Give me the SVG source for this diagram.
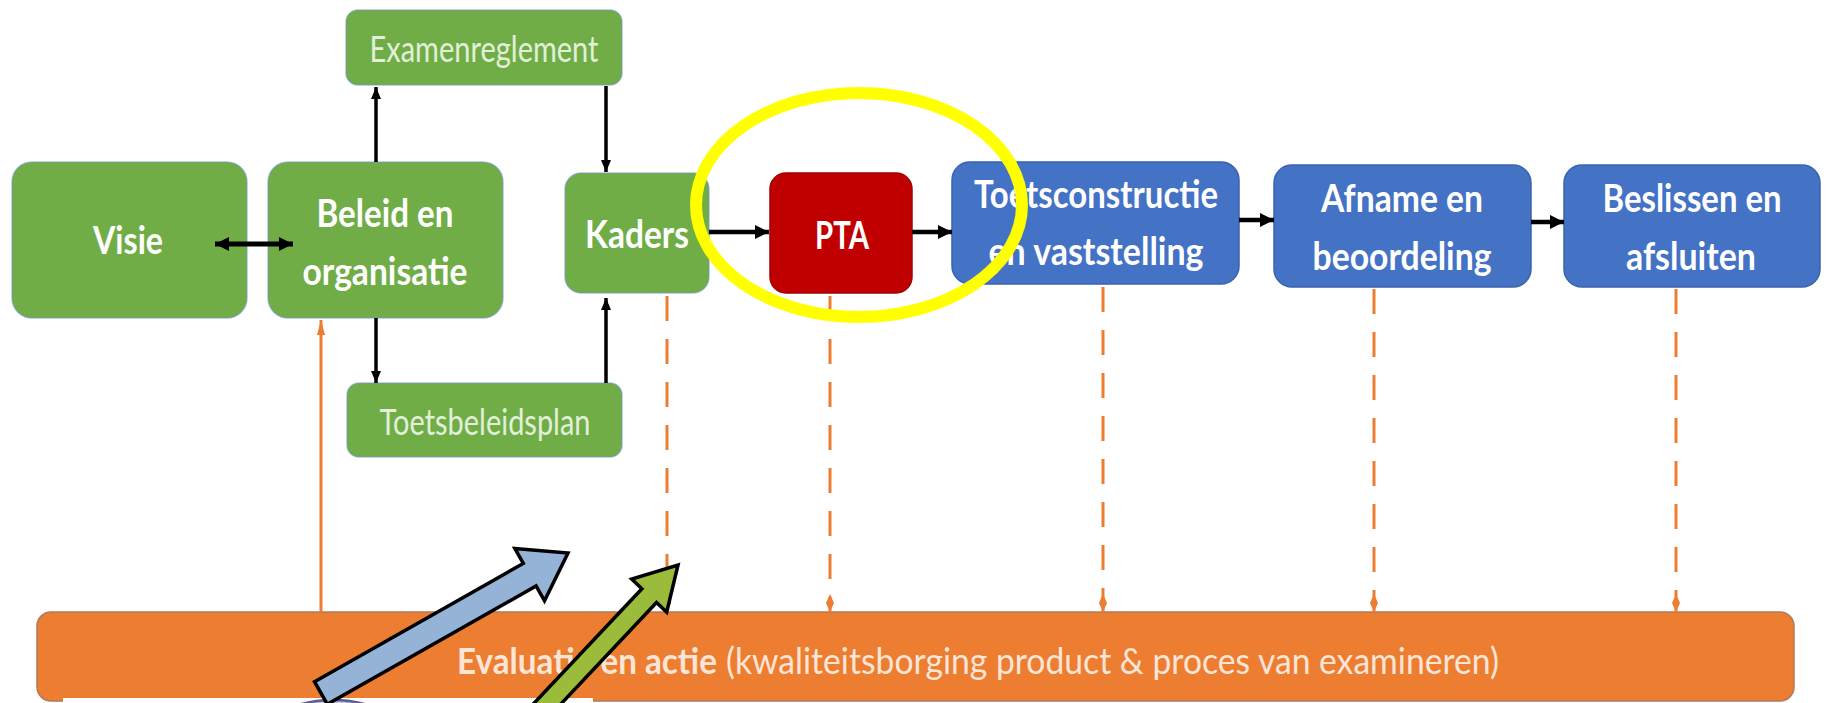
<svg xmlns="http://www.w3.org/2000/svg" width="1831" height="703" viewBox="0 0 1831 703">
<style>
.g{fill:#70AD47;stroke:#6E93BF;stroke-opacity:0.55;stroke-width:1.5}
.b{fill:#4472C4;stroke:#3A63AD;stroke-width:1.5}
.r{fill:#C00000;stroke:#A30000;stroke-width:1.5}
.t{font-family:Lato,"Liberation Sans",sans-serif;font-weight:bold;font-size:39px;fill:#FFFFFF;text-anchor:middle}
.ts{font-family:Lato,"Liberation Sans",sans-serif;font-size:36px;fill:#E2F0D9;text-anchor:middle}
.bt{font-family:Lato,"Liberation Sans",sans-serif;font-size:36px;fill:#FBE5D6}
.k{stroke:#000;fill:none}
.od{stroke:#ED7D31;stroke-width:3;stroke-dasharray:25 18;fill:none}
</style>
<defs>
<marker id="ah" markerUnits="userSpaceOnUse" markerWidth="16" markerHeight="16" refX="14" refY="8" orient="auto"><path d="M0,1 L14,8 L0,15 z" fill="#000"/></marker>
<marker id="ahs" markerUnits="userSpaceOnUse" markerWidth="14" markerHeight="12" refX="12" refY="6" orient="auto"><path d="M0,1 L12,6 L0,11 z" fill="#000"/></marker>
<marker id="ahd" markerUnits="userSpaceOnUse" markerWidth="16" markerHeight="16" refX="14" refY="8" orient="auto-start-reverse"><path d="M0,1 L14,8 L0,15 z" fill="#000"/></marker>
<marker id="od" markerUnits="userSpaceOnUse" markerWidth="18" markerHeight="10" refX="18" refY="5" orient="auto"><path d="M0,5 L9,1 L18,5 L9,9 z" fill="#ED7D31"/></marker>
<marker id="os" markerUnits="userSpaceOnUse" markerWidth="15" markerHeight="10" refX="15" refY="5" orient="auto"><path d="M0,1 L15,5 L0,9 z" fill="#ED7D31"/></marker>
</defs>
<rect width="1831" height="703" fill="#FFFFFF"/>

<g id="visie"><rect class="g" x="12" y="162" width="235" height="156" rx="20"/><text class="t" x="128" y="254" textLength="70" lengthAdjust="spacingAndGlyphs">Visie</text></g>
<g id="beleid"><rect class="g" x="268" y="162" width="235" height="156" rx="20"/><text class="t" x="385" y="227" textLength="137" lengthAdjust="spacingAndGlyphs">Beleid en</text><text class="t" x="385" y="285" textLength="165" lengthAdjust="spacingAndGlyphs">organisatie</text></g>
<g id="examenreglement"><rect class="g" x="346" y="10" width="276" height="75" rx="12"/><text class="ts" x="484" y="62" textLength="229" lengthAdjust="spacingAndGlyphs">Examenreglement</text></g>
<g id="toetsbeleidsplan"><rect class="g" x="347" y="383" width="275" height="74" rx="12"/><text class="ts" x="485" y="435" font-size="34" textLength="211" lengthAdjust="spacingAndGlyphs">Toetsbeleidsplan</text></g>
<g id="kaders"><rect class="g" x="565" y="173" width="144" height="120" rx="16"/><text class="t" x="637" y="248" textLength="104" lengthAdjust="spacingAndGlyphs">Kaders</text></g>
<g id="pta"><rect class="r" x="770" y="173" width="142" height="120" rx="16"/><text class="t" x="842" y="249" font-weight="normal" textLength="54" lengthAdjust="spacingAndGlyphs">PTA</text></g>
<g id="toetsconstructie"><rect class="b" x="952" y="162" width="287" height="122" rx="18"/><text class="t" x="1096" y="208" textLength="244" lengthAdjust="spacingAndGlyphs">Toetsconstructie</text><text class="t" x="1096" y="265" textLength="215" lengthAdjust="spacingAndGlyphs">en vaststelling</text></g>
<g id="afname"><rect class="b" x="1274" y="165" width="257" height="122" rx="18"/><text class="t" x="1402" y="212" textLength="162" lengthAdjust="spacingAndGlyphs">Afname en</text><text class="t" x="1402" y="270" textLength="179" lengthAdjust="spacingAndGlyphs">beoordeling</text></g>
<g id="beslissen"><rect class="b" x="1564" y="165" width="256" height="122" rx="18"/><text class="t" x="1692" y="212" textLength="179" lengthAdjust="spacingAndGlyphs">Beslissen en</text><text class="t" x="1691" y="270" textLength="130" lengthAdjust="spacingAndGlyphs">afsluiten</text></g>

<g id="evaluatie"><rect x="37" y="612" width="1757" height="89" rx="14" fill="#ED7D31" stroke="#B07A5C" stroke-width="1.5"/><text class="bt" y="674"><tspan x="457" font-weight="bold" textLength="260" lengthAdjust="spacingAndGlyphs">Evaluatie en actie</tspan><tspan x="726" textLength="773" lengthAdjust="spacingAndGlyphs">(kwaliteitsborging product &amp; proces van examineren)</tspan></text></g>

<g id="connectors">
<line class="k" x1="215" y1="244" x2="293" y2="244" stroke-width="5" marker-start="url(#ahd)" marker-end="url(#ahd)"/>
<line class="k" x1="376" y1="162" x2="376" y2="87" stroke-width="3.5" marker-end="url(#ahs)"/>
<line class="k" x1="606" y1="86" x2="606" y2="172" stroke-width="3.5" marker-end="url(#ahs)"/>
<line class="k" x1="376" y1="318" x2="376" y2="383" stroke-width="3.5" marker-end="url(#ahs)"/>
<line class="k" x1="606" y1="383" x2="606" y2="298" stroke-width="3.5" marker-end="url(#ahs)"/>
<line class="k" x1="709" y1="232" x2="769" y2="232" stroke-width="4.5" marker-end="url(#ah)"/>
<line class="k" x1="912" y1="232" x2="952" y2="232" stroke-width="4.5" marker-end="url(#ah)"/>
<line class="k" x1="1239" y1="220" x2="1274" y2="220" stroke-width="4.5" marker-end="url(#ah)"/>
<line class="k" x1="1531" y1="222" x2="1564" y2="222" stroke-width="4.5" marker-end="url(#ah)"/>
<line x1="321" y1="612" x2="321" y2="320" stroke="#ED7D31" stroke-width="3" marker-end="url(#os)"/>
<line class="od" x1="667" y1="296" x2="667" y2="612" marker-end="url(#od)"/>
<line class="od" x1="830" y1="296" x2="830" y2="612" marker-end="url(#od)"/>
<line class="od" x1="1103" y1="287" x2="1103" y2="612" marker-end="url(#od)"/>
<line class="od" x1="1374" y1="289" x2="1374" y2="612" marker-end="url(#od)"/>
<line class="od" x1="1676" y1="289" x2="1676" y2="612" marker-end="url(#od)"/>
</g>

<ellipse id="highlight" cx="859" cy="205" rx="163" ry="112" fill="none" stroke="#FFFF00" stroke-width="12"/>

<g id="bottom-panel">
<rect x="63" y="698" width="530" height="10" fill="#FFFFFF"/>
<ellipse cx="333" cy="745" rx="75" ry="45" fill="#C9C9E0" stroke="#5F5F8F" stroke-width="2.5"/>
</g>

<polygon id="blue-arrow" points="314.5,681.7 523.3,563.4 514.9,548.6 568,553 544.5,600.8 536.1,586 327.3,704.3" fill="#95B3D7" stroke="#000" stroke-width="3.5" stroke-linejoin="miter"/>
<polygon id="green-arrow" points="525.3,712.5 641.9,588.7 631.7,579.1 678,565 666.7,612.1 656.5,602.5 539.9,726.3" fill="#9BBB3B" stroke="#000" stroke-width="3.5" stroke-linejoin="miter"/>
</svg>
